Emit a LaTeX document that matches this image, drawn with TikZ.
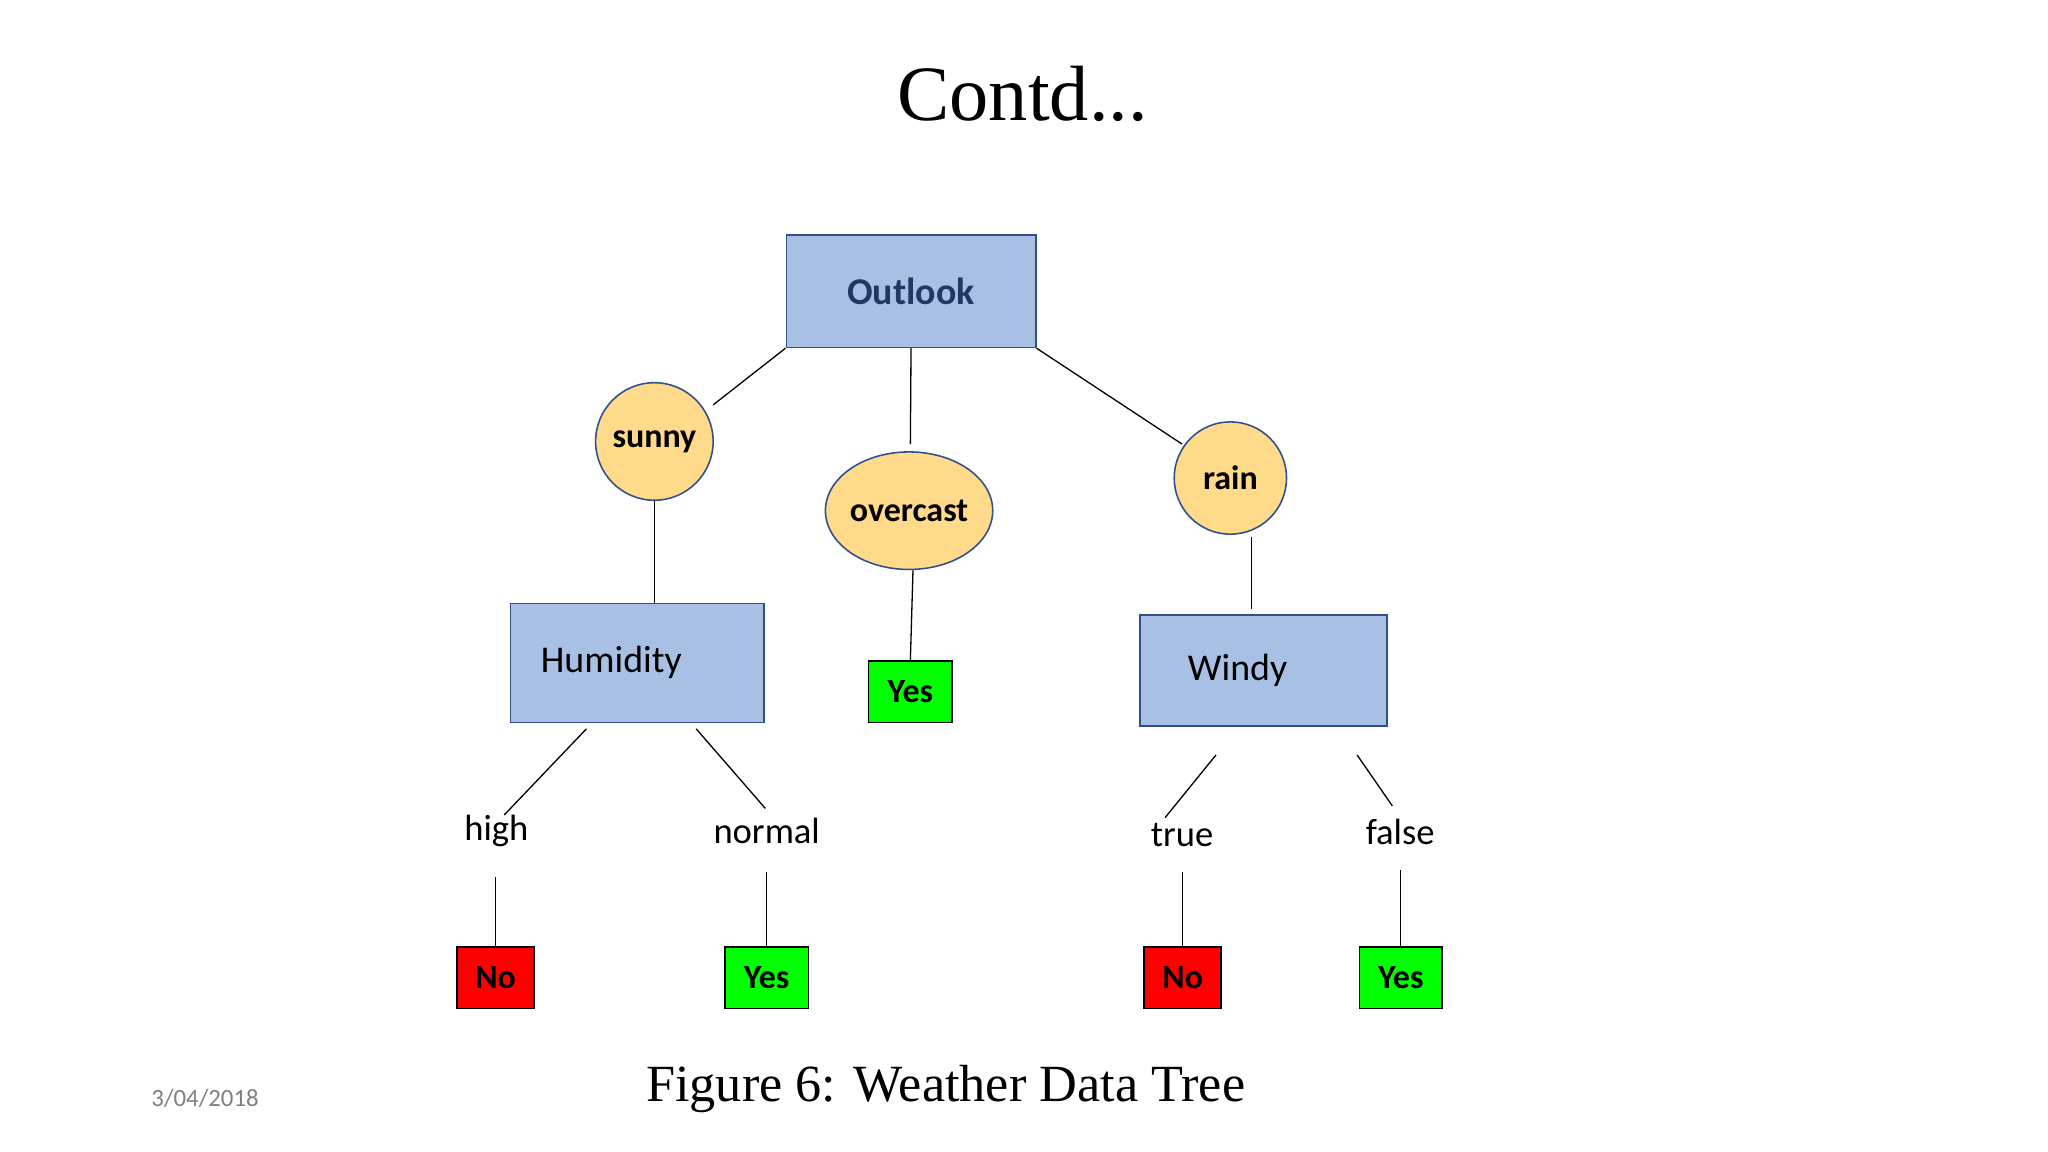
\documentclass[tikz,border=0pt]{standalone}
\usepackage{fontspec}
\setmainfont{Liberation Serif}
\newfontfamily\calfont{Carlito}
\usetikzlibrary{shapes.geometric}
\definecolor{boxblue}{HTML}{A9C0E5}
\definecolor{edgeblue}{HTML}{2F4F8F}
\definecolor{navy}{HTML}{1F3864}
\definecolor{circfill}{HTML}{FFDA8A}
\tikzset{
 attr/.style={draw=edgeblue,fill=boxblue,line width=0.6pt,inner sep=0},
 val/.style={draw=edgeblue,fill=circfill,line width=0.6pt,circle,inner sep=0,font=\calfont\fontsize{13}{13}\selectfont\bfseries},
 leaf/.style={draw=black,line width=0.6pt,inner sep=0,font=\calfont\fontsize{13}{13}\selectfont\bfseries},
 lab/.style={font=\calfont\fontsize{14}{14}\selectfont},
 ln/.style={line width=0.5pt}
}
\begin{document}
\begin{tikzpicture}[x=0.5pt,y=-0.5pt]
\useasboundingbox (0,0) rectangle (1568,882);
\node at (783,72) {\fontsize{30}{30}\selectfont Contd...};
\node[attr,minimum width=95.5pt,minimum height=43pt,font=\calfont\fontsize{14.5}{14.5}\selectfont\bfseries\color{navy}] (out) at (697.5,223) {Outlook};
\node[val,minimum size=45pt] (sun) at (501,338) {sunny};
\node[val,ellipse,minimum width=53pt,minimum height=45pt] (ovc) at (696,391) {overcast};
\node[val,minimum size=43pt] (rain) at (942,366) {rain};
\node[attr,minimum width=97pt,minimum height=45.5pt,font=\calfont\fontsize{14.5}{14.5}\selectfont] (hum) at (488,507.5) {\hspace*{-20pt}Humidity};
\node[attr,minimum width=94.5pt,minimum height=42.5pt,font=\calfont\fontsize{14.5}{14.5}\selectfont] (win) at (967.5,513.5) {\hspace*{-20pt}Windy};
\node[leaf,fill=green,minimum width=32pt,minimum height=23.5pt] (y0) at (697,529.5) {Yes};
\node[lab] (high) at (380,636) {high};
\node[lab] (norm) at (587,636) {normal};
\node[lab] (tru) at (905,639) {true};
\node[lab] (fal) at (1072,637) {false};
\node[leaf,fill=red,minimum width=29.5pt,minimum height=23.5pt] (n1) at (379.5,748.5) {No};
\node[leaf,fill=green,minimum width=32pt,minimum height=23.5pt] (y1) at (587,748.5) {Yes};
\node[leaf,fill=red,minimum width=29.5pt,minimum height=23.5pt] (n2) at (905.5,748.5) {No};
\node[leaf,fill=green,minimum width=31.5pt,minimum height=23.5pt] (y2) at (1072.5,748.5) {Yes};
\coordinate (a1) at (546,310); \coordinate (a2) at (697,340); \coordinate (a3) at (905,340);
\draw[ln] (out.south west) -- (a1);
\draw[ln] (out.south) -- (a2);
\draw[ln] (out.south east) -- (a3);
\draw[ln] (sun.south) -- (hum.north -| sun.south);
\draw[ln] ([xshift=1.5pt]ovc.south) -- (y0.north);
\coordinate (r1) at (958,411); \coordinate (r2) at (958,466);
\draw[ln] (r1) -- (r2);
\coordinate (h1) at (449,558); \coordinate (h2) at (533,558);
\coordinate (w1) at (931,578); \coordinate (w2) at (1039,578);
\coordinate (h1e) at (386,624); \coordinate (h2e) at (586,619);
\coordinate (w1e) at (892,626); \coordinate (w2e) at (1066,617);
\draw[ln] (h1) -- (h1e);
\draw[ln] (h2) -- (h2e);
\draw[ln] (w1) -- (w1e);
\draw[ln] (w2) -- (w2e);
\draw[ln] (n1.north) -- ++(0,-53);
\draw[ln] (y1.north) -- ++(0,-57);
\draw[ln] (n2.north) -- ++(0,-57);
\draw[ln] (y2.north) -- ++(0,-58);
\node at (724,834) {\fontsize{20}{20}\selectfont Figure 6: Weather Data Tree};
\node[text=gray] at (157,841) {\calfont\fontsize{9.5}{9.5}\selectfont 3/04/2018};
\end{tikzpicture}
\end{document}
